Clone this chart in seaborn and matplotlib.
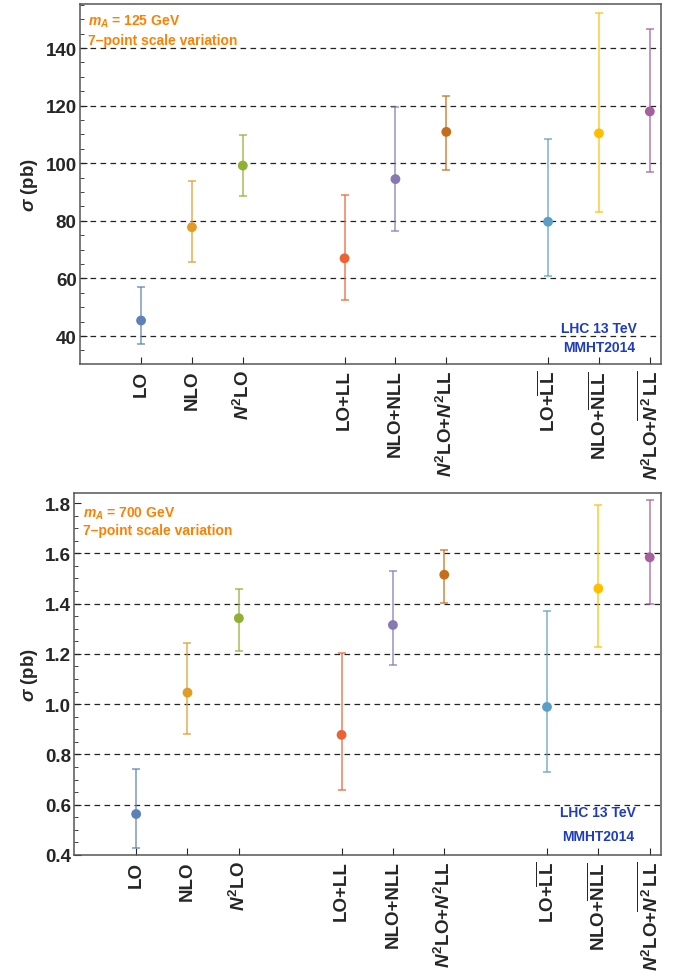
import numpy as np
import pandas as pd
import seaborn as sns
import matplotlib.pyplot as plt
from matplotlib.ticker import FixedLocator, MultipleLocator, FormatStrFormatter

orders = [
    'LO', 'NLO', r'$N^{\mathbf{2}}$LO',
    'LO+LL', 'NLO+NLL', r'$N^{\mathbf{2}}$LO+$N^{\mathbf{2}}$LL',
    r'LO+$\overline{\mathbf{LL}}$', r'NLO+$\overline{\mathbf{NLL}}$',
    r'$N^{\mathbf{2}}$LO+$\overline{N^{\mathbf{2}}\,\mathbf{LL}}$',
]
positions = [1, 2, 3, 5, 6, 7, 9, 10, 11]
colors = ['#5E81B5', '#E19C24', '#8FB032', '#EB6235', '#8778B3',
          '#C56E1A', '#5D9EC7', '#FFBF00', '#A5609D']

# mA = 125 GeV
sigma_125 = [45.4, 77.8, 99.2, 67.0, 94.5, 110.9, 79.7, 110.4, 118.0]
low_125 = [37.1, 65.7, 88.8, 52.4, 76.5, 97.8, 61.0, 83.1, 96.9]
high_125 = [57.2, 93.7, 109.8, 89.0, 119.4, 123.4, 108.4, 152.1, 146.6]
grid_125 = [40, 60, 80, 100, 120, 140]

# mA = 700 GeV
sigma_700 = [0.563, 1.046, 1.342, 0.878, 1.315, 1.515, 0.989, 1.460, 1.584]
low_700 = [0.429, 0.881, 1.213, 0.657, 1.155, 1.402, 0.732, 1.226, 1.399]
high_700 = [0.743, 1.242, 1.460, 1.202, 1.531, 1.615, 1.369, 1.793, 1.814]
grid_700 = [0.6, 0.8, 1.0, 1.2, 1.4, 1.6]

sns.set_style('ticks')
plt.rcParams['font.family'] = ['Liberation Sans', 'DejaVu Sans']
plt.rcParams['mathtext.fontset'] = 'custom'
plt.rcParams['mathtext.rm'] = 'Liberation Sans:bold'
plt.rcParams['mathtext.bf'] = 'Liberation Sans:bold'
plt.rcParams['mathtext.it'] = 'Liberation Sans:bold:italic'

ORANGE = '#FF8000'
BLUE = '#1E3CBE'


def draw_panel(ax, sigma, low, high, grid, mass, ylim, major, minor, fmt, txt_y, lhc_y):
    df = pd.DataFrame({'pos': positions, 'sigma': sigma, 'low': low,
                       'high': high, 'order': orders})
    for _, r in df.iterrows():
        c = colors[positions.index(r['pos'])]
        ax.errorbar(r['pos'], r['sigma'],
                    yerr=[[r['sigma'] - r['low']], [r['high'] - r['sigma']]],
                    fmt='none', ecolor=c, alpha=0.75, elinewidth=1.2,
                    capsize=2.6, capthick=1.2, zorder=2)
    sns.scatterplot(data=df, x='pos', y='sigma', hue='order', palette=colors,
                    s=50, edgecolor='none', legend=False, ax=ax, zorder=3)
    for g in grid:
        ax.axhline(g, color='#222222', lw=0.9, ls=(0, (4.5, 3.5)), zorder=1)

    ax.set_xlim(-0.21, 11.22)
    ax.set_ylim(*ylim)
    ax.xaxis.set_major_locator(FixedLocator(positions))
    ax.set_xticklabels(orders, rotation=90, fontsize=13.5, fontweight='bold')
    ax.yaxis.set_major_locator(MultipleLocator(major))
    ax.yaxis.set_minor_locator(MultipleLocator(minor))
    ax.yaxis.set_major_formatter(FormatStrFormatter(fmt))
    for t in ax.get_yticklabels():
        t.set_fontweight('bold')
        t.set_fontsize(13.5)
    ax.tick_params(axis='both', which='both', direction='in', top=False, right=False)
    ax.tick_params(axis='y', which='major', length=5, width=0.8, pad=2)
    ax.tick_params(axis='y', which='minor', length=3, width=0.6)
    ax.tick_params(axis='x', which='major', length=5, width=0.8, pad=4)
    ax.set_xlabel('')
    ax.set_ylabel(r'$\sigma$ (pb)', fontsize=13.5, fontweight='bold', labelpad=4)
    for s in ax.spines.values():
        s.set_color('#555555')
        s.set_linewidth(1.1)

    ax.text(0.015, txt_y[0], r'$m_A$ = %d GeV' % mass, transform=ax.transAxes,
            color=ORANGE, fontsize=10, fontweight='bold')
    ax.text(0.015, txt_y[1], '7\u2013point scale variation', transform=ax.transAxes,
            color=ORANGE, fontsize=10, fontweight='bold')
    ax.text(0.893, lhc_y[0], 'LHC 13 TeV', transform=ax.transAxes, ha='center',
            va='center', color=BLUE, fontsize=10, fontweight='bold',
            family=['Liberation Sans Narrow', 'Liberation Sans'])
    ax.text(0.893, lhc_y[1], 'MMHT2014', transform=ax.transAxes, ha='center',
            va='center', color=BLUE, fontsize=10, fontweight='bold',
            family=['Liberation Sans Narrow', 'Liberation Sans'])


fig = plt.figure(figsize=(6.83, 9.78), dpi=100)
W, H = 683, 978
ax1 = fig.add_axes([79.5 / W, 1 - 365 / H, 581.5 / W, 360 / H])
ax2 = fig.add_axes([74 / W, 1 - 856 / H, 587 / W, 362 / H])

draw_panel(ax1, sigma_125, low_125, high_125, grid_125, 125, (30.3, 155.3),
           20, 5, '%d', (0.942, 0.889), (0.10, 0.047))
draw_panel(ax2, sigma_700, low_700, high_700, grid_700, 700, (0.4, 1.84),
           0.2, 0.05, '%.1f', (0.936, 0.887), (0.119, 0.052))

fig.savefig('out.png', dpi=100)
